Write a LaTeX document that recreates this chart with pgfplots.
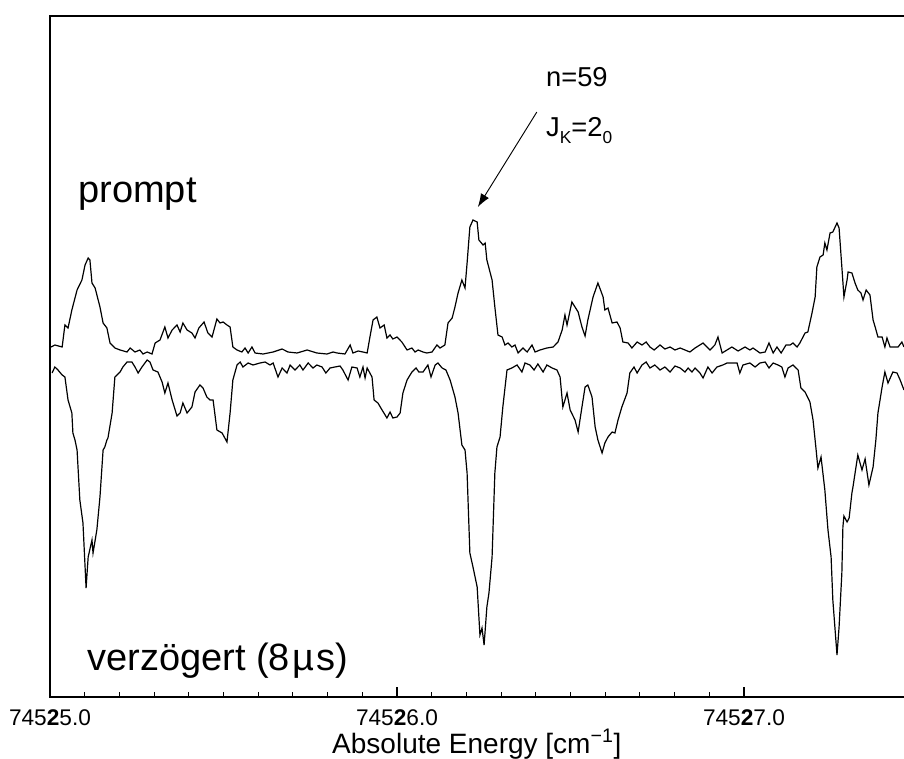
\documentclass[border=0pt]{standalone}
\usepackage{fontspec}
\setmainfont{Liberation Sans}
\usepackage{pgfplots}
\pgfplotsset{compat=1.18}
\usepackage{pgfplotstable}
\usetikzlibrary{arrows.meta}

% x: energy above 74525.0 cm^-1, y: signal (arbitrary units, traces offset)
\pgfplotstableread{
x y
0.003 350
0.014 352
0.035 350
0.043 372
0.052 369
0.063 387
0.078 407
0.092 417
0.101 432
0.110 439
0.115 437
0.121 414
0.130 409
0.144 390
0.153 374
0.164 369
0.173 354
0.187 349
0.202 347
0.222 345
0.231 349
0.245 345
0.259 347
0.268 343
0.280 345
0.294 343
0.303 354
0.317 357
0.331 370
0.340 359
0.352 367
0.366 372
0.375 365
0.383 374
0.395 367
0.409 364
0.418 359
0.429 369
0.444 375
0.455 364
0.467 360
0.481 378
0.490 374
0.499 375
0.510 372
0.519 370
0.527 350
0.539 347
0.553 345
0.562 349
0.571 344
0.582 350
0.591 344
0.614 343
0.643 345
0.669 348
0.686 345
0.712 344
0.741 347
0.769 344
0.798 343
0.816 345
0.827 344
0.850 343
0.865 352
0.873 344
0.888 346
0.902 345
0.914 344
0.922 360
0.931 377
0.942 380
0.951 369
0.963 372
0.971 359
0.980 362
0.988 358
1.000 360
1.014 355
1.029 347
1.043 349
1.052 345
1.061 347
1.075 345
1.086 344
1.101 345
1.115 352
1.124 349
1.138 352
1.147 374
1.159 379
1.167 390
1.176 404
1.187 417
1.196 409
1.202 434
1.210 470
1.219 477
1.231 475
1.236 457
1.248 452
1.254 454
1.259 437
1.274 417
1.282 390
1.291 362
1.303 360
1.311 352
1.320 354
1.331 350
1.340 352
1.349 344
1.363 349
1.375 345
1.389 352
1.398 345
1.412 347
1.432 349
1.450 350
1.464 355
1.476 367
1.484 382
1.490 372
1.504 395
1.513 390
1.522 385
1.533 370
1.542 361
1.550 377
1.565 400
1.579 414
1.594 400
1.599 387
1.608 389
1.620 374
1.634 375
1.643 369
1.651 355
1.666 354
1.677 349
1.692 355
1.706 352
1.718 355
1.729 350
1.741 347
1.758 352
1.772 348
1.787 350
1.801 347
1.816 349
1.830 347
1.844 345
1.859 349
1.882 354
1.902 347
1.916 352
1.925 360
1.937 344
1.951 347
1.965 350
1.983 346
2.003 350
2.017 347
2.026 349
2.046 344
2.061 345
2.072 354
2.084 344
2.095 350
2.107 344
2.121 352
2.133 352
2.141 354
2.153 350
2.161 354
2.176 364
2.184 365
2.196 384
2.205 400
2.210 430
2.219 440
2.228 442
2.233 454
2.239 447
2.248 464
2.256 465
2.268 474
2.274 469
2.282 430
2.288 400
2.297 417
2.300 425
2.311 424
2.320 414
2.328 407
2.337 404
2.343 397
2.352 407
2.363 402
2.372 377
2.378 370
2.386 360
2.398 360
2.406 350
2.412 359
2.421 350
2.429 350
2.444 350
2.455 355
2.461 350
}\promptdata

\pgfplotstableread{
x y
0.006 324
0.014 330
0.023 327
0.035 322
0.043 320
0.052 297
0.063 284
0.066 264
0.072 257
0.078 247
0.086 197
0.095 174
0.104 109
0.110 140
0.121 157
0.124 144
0.135 167
0.144 200
0.153 247
0.158 250
0.164 257
0.167 259
0.179 284
0.187 320
0.202 325
0.210 330
0.222 335
0.236 335
0.245 330
0.254 324
0.265 330
0.280 337
0.288 335
0.297 327
0.311 325
0.323 315
0.331 304
0.340 314
0.352 297
0.366 281
0.375 284
0.383 294
0.395 284
0.409 290
0.418 305
0.432 312
0.441 309
0.452 300
0.461 297
0.470 297
0.481 267
0.496 264
0.510 255
0.519 284
0.527 317
0.539 332
0.548 335
0.556 330
0.571 334
0.585 332
0.605 334
0.620 335
0.634 332
0.643 334
0.657 320
0.669 329
0.683 324
0.692 332
0.706 327
0.720 332
0.729 327
0.744 334
0.758 329
0.769 332
0.784 330
0.795 324
0.807 329
0.821 330
0.836 331
0.844 327
0.859 317
0.870 330
0.885 329
0.893 320
0.902 330
0.908 319
0.914 329
0.928 320
0.934 297
0.945 294
0.957 287
0.971 279
0.980 285
0.988 279
1.000 280
1.009 284
1.017 304
1.029 317
1.043 325
1.055 329
1.063 325
1.075 325
1.089 332
1.098 320
1.110 332
1.118 334
1.130 329
1.141 327
1.153 317
1.167 300
1.176 284
1.187 252
1.196 247
1.202 224
1.210 144
1.219 130
1.231 110
1.239 62
1.245 69
1.251 52
1.259 90
1.265 104
1.274 140
1.282 224
1.288 250
1.297 260
1.305 290
1.317 327
1.331 329
1.346 332
1.360 325
1.369 334
1.383 332
1.395 327
1.406 333
1.421 325
1.432 332
1.447 329
1.461 327
1.470 320
1.478 290
1.490 304
1.499 287
1.513 277
1.522 265
1.533 290
1.542 310
1.550 312
1.562 300
1.571 270
1.579 257
1.591 244
1.599 254
1.608 260
1.620 265
1.628 264
1.637 277
1.648 290
1.663 304
1.671 324
1.683 330
1.692 324
1.706 332
1.718 335
1.729 329
1.743 332
1.758 327
1.772 330
1.787 325
1.801 331
1.816 329
1.830 325
1.839 329
1.850 325
1.859 329
1.873 324
1.882 319
1.896 330
1.908 324
1.922 330
1.939 332
1.951 334
1.968 334
1.980 334
1.988 324
1.997 332
2.017 334
2.032 330
2.046 334
2.061 335
2.072 329
2.084 334
2.098 332
2.109 330
2.118 320
2.127 329
2.141 332
2.156 327
2.164 309
2.176 305
2.190 295
2.199 277
2.207 250
2.213 229
2.222 240
2.233 207
2.242 167
2.251 140
2.256 97
2.268 42
2.274 70
2.282 124
2.285 170
2.288 181
2.297 175
2.303 179
2.311 204
2.314 210
2.328 242
2.340 227
2.349 238
2.360 212
2.372 230
2.380 257
2.386 284
2.398 310
2.406 325
2.415 314
2.429 325
2.441 324
2.450 317
2.461 307
}\delayeddata

\begin{document}
\begin{tikzpicture}
\useasboundingbox (0,0) rectangle (678pt,568.5pt);
\clip (0,0) rectangle (678pt,568.5pt);
\begin{axis}[
  at={(37.5pt,45.75pt)}, anchor=south west,
  scale only axis, width=650.625pt, height=510.75pt,
  xmin=0, xmax=2.5, ymin=0, ymax=681,
  xtick={0,1,2},
  xticklabels={745\textbf{2}5.0, 745\textbf{2}6.0, 745\textbf{2}7.0},
  minor x tick num=9,
  xtick pos=left, ytick=\empty,
  major tick length=7.5pt, minor tick length=3.75pt,
  tick style={black, line width=0.8pt},
  axis line style={line width=1pt},
  /pgf/number format/assume math mode=true,
  xticklabel style={font=\fontsize{17}{17}\selectfont, anchor=base, yshift=-21pt},
  xlabel={Absolute Energy [cm\textsuperscript{−1}]},
  xlabel style={font=\fontsize{21}{21}\selectfont,
    at={(axis description cs:0.492,0)}, anchor=base, yshift=-42pt},
]
\addplot[black, line width=0.9pt, no markers] table {\promptdata};
\addplot[black, line width=0.9pt, no markers] table {\delayeddata};

\node[anchor=base west, inner sep=0pt, font=\fontsize{28.5}{28.5}\selectfont]
  at (axis cs:0.081,494) {prompt};
\node[anchor=base west, inner sep=0pt, font=\fontsize{28.5}{28.5}\selectfont]
  at (axis cs:0.107,27) {verzögert (8\kern1.5ptµ\kern1.5pts)};
\node[anchor=base west, inner sep=0pt, font=\fontsize{20.5}{20.5}\selectfont]
  at (axis cs:1.429,610) {n=59};
\node[anchor=base west, inner sep=0pt, font=\fontsize{20.5}{20.5}\selectfont]
  at (axis cs:1.429,560) {J\raisebox{-5pt}{\fontsize{13}{13}\selectfont K}=2\raisebox{-5pt}{\fontsize{13}{13}\selectfont 0}};
\draw[line width=0.7pt, -{Latex[length=10pt, width=7pt]}]
  (axis cs:1.403,585) -- (axis cs:1.233,490);
\end{axis}
\end{tikzpicture}
\end{document}
